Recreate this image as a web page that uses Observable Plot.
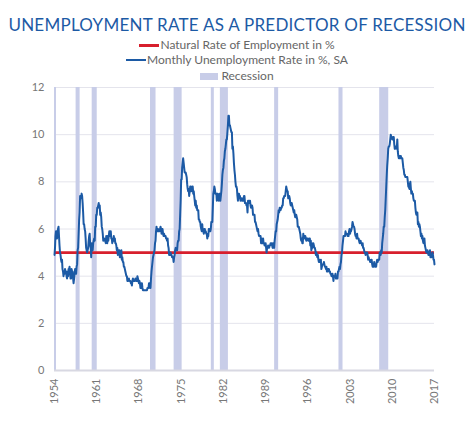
<!DOCTYPE html>
<html><head><meta charset="utf-8">
<script src="https://cdn.jsdelivr.net/npm/d3@7"></script>
<script src="https://cdn.jsdelivr.net/npm/@observablehq/plot@0.6"></script>
<style>
body{margin:0;background:#fff;font-family:Lato,"Open Sans",sans-serif;}
#wrap{width:474px;height:426px;position:relative;overflow:hidden}
#header{position:absolute;left:0;top:0;width:474px;height:84px;z-index:1}
#chart{position:absolute;left:0;top:0}
#title{position:absolute;left:0;width:474px;top:14px;text-align:center;color:#1c5aa5;font-size:17px;white-space:nowrap;line-height:22px}
.leg{position:absolute;left:0;width:474px;display:flex;justify-content:center;align-items:center;color:#666;font-size:12px;line-height:14px;white-space:nowrap}
.sw{display:inline-block;margin-right:1px}
</style></head>
<body><div id="wrap"><div id="chart"></div><div id="header">
<div id="title"><span id="tt">UNEMPLOYMENT RATE AS A PREDICTOR OF RECESSION</span></div>
<div class="leg" style="top:38px"><span class="sw" style="width:20px;height:3px;background:#d71f2d"></span><span>Natural Rate of Employment in %</span></div>
<div class="leg" style="top:53px"><span class="sw" style="width:20px;height:2px;background:#1c5aa5"></span><span>Monthly Unemployment Rate in %, SA</span></div>
<div class="leg" style="top:69px"><span class="sw" style="width:18px;height:7px;background:#c8cde8;margin-right:3px"></span><span>Recession</span></div>
</div></div>
<script>
const startMonth = "1954-01";
const unemploymentRate = [
4.9,5.2,5.7,5.9,5.9,5.6,5.8,6.0,6.1,5.7,5.3,5.0,
4.9,4.7,4.6,4.7,4.3,4.2,4.0,4.2,4.1,4.3,4.2,4.2,
4.0,3.9,4.2,4.0,4.3,4.3,4.4,4.1,3.9,3.9,4.3,4.2,
4.2,3.9,3.7,3.9,4.1,4.3,4.2,4.1,4.4,4.5,5.1,5.2,
5.8,6.4,6.7,7.4,7.4,7.3,7.5,7.4,7.1,6.7,6.2,6.2,
6.0,5.9,5.6,5.2,5.1,5.0,5.1,5.2,5.5,5.7,5.8,5.3,
5.2,4.8,5.4,5.2,5.1,5.4,5.5,5.6,5.5,6.1,6.1,6.6,
6.6,6.9,6.9,7.0,7.1,6.9,7.0,6.6,6.7,6.5,6.1,6.0,
5.8,5.5,5.6,5.6,5.5,5.5,5.4,5.7,5.6,5.4,5.7,5.5,
5.7,5.9,5.7,5.7,5.9,5.6,5.6,5.4,5.5,5.5,5.7,5.5,
5.6,5.4,5.4,5.3,5.1,5.2,4.9,5.0,5.1,5.1,4.8,5.0,
4.9,5.1,4.7,4.8,4.6,4.6,4.4,4.4,4.3,4.2,4.1,4.0,
4.0,3.8,3.8,3.8,3.9,3.8,3.8,3.8,3.7,3.7,3.6,3.8,
3.9,3.8,3.8,3.8,3.8,3.9,3.8,3.8,3.8,4.0,3.9,3.8,
3.7,3.8,3.7,3.5,3.5,3.7,3.7,3.5,3.4,3.4,3.4,3.4,
3.4,3.4,3.4,3.4,3.4,3.5,3.5,3.5,3.7,3.7,3.5,3.5,
3.9,4.2,4.4,4.6,4.8,4.9,5.0,5.1,5.4,5.5,5.9,6.1,
5.9,5.9,6.0,5.9,5.9,5.9,6.0,6.1,6.0,5.8,6.0,6.0,
5.8,5.7,5.8,5.7,5.7,5.7,5.6,5.6,5.5,5.6,5.3,5.2,
4.9,5.0,4.9,5.0,4.9,4.9,4.8,4.8,4.8,4.6,4.8,4.9,
5.1,5.2,5.1,5.1,5.1,5.4,5.5,5.5,5.9,6.0,6.6,7.2,
8.1,8.1,8.6,8.8,9.0,8.8,8.6,8.4,8.4,8.4,8.3,8.2,
7.9,7.7,7.6,7.7,7.4,7.6,7.8,7.8,7.6,7.7,7.8,7.8,
7.5,7.6,7.4,7.2,7.0,7.2,6.9,7.0,6.8,6.8,6.8,6.4,
6.4,6.3,6.3,6.1,6.0,5.9,6.2,5.9,6.0,5.8,5.9,6.0,
5.9,5.9,5.8,5.8,5.6,5.7,5.7,6.0,5.9,6.0,5.9,6.0,
6.3,6.3,6.3,6.9,7.5,7.6,7.8,7.7,7.5,7.5,7.5,7.2,
7.5,7.4,7.4,7.2,7.5,7.5,7.2,7.4,7.6,7.9,8.3,8.5,
8.6,8.9,9.0,9.3,9.4,9.6,9.8,9.8,10.1,10.4,10.8,10.8,
10.4,10.4,10.3,10.2,10.1,10.1,9.4,9.5,9.2,8.8,8.5,8.3,
8.0,7.8,7.8,7.7,7.4,7.2,7.5,7.5,7.3,7.4,7.2,7.3,
7.3,7.2,7.2,7.3,7.2,7.4,7.4,7.1,7.1,7.1,7.0,7.0,
6.7,7.2,7.2,7.1,7.2,7.2,7.0,6.9,7.0,7.0,6.9,6.6,
6.6,6.6,6.6,6.3,6.3,6.2,6.1,6.0,5.9,6.0,5.8,5.7,
5.7,5.7,5.7,5.4,5.6,5.4,5.4,5.6,5.4,5.4,5.3,5.3,
5.4,5.2,5.0,5.2,5.2,5.3,5.2,5.2,5.3,5.3,5.4,5.4,
5.4,5.3,5.2,5.4,5.4,5.2,5.5,5.7,5.9,5.9,6.2,6.3,
6.4,6.6,6.8,6.7,6.9,6.9,6.8,6.9,6.9,7.0,7.0,7.3,
7.3,7.4,7.4,7.4,7.6,7.8,7.7,7.6,7.6,7.3,7.4,7.4,
7.3,7.1,7.0,7.1,7.1,7.0,6.9,6.8,6.7,6.8,6.6,6.5,
6.6,6.6,6.5,6.4,6.1,6.1,6.1,6.0,5.9,5.8,5.6,5.5,
5.6,5.4,5.4,5.8,5.6,5.6,5.7,5.7,5.6,5.5,5.6,5.6,
5.6,5.5,5.5,5.6,5.6,5.3,5.5,5.1,5.2,5.2,5.4,5.4,
5.3,5.2,5.2,5.1,4.9,5.0,4.9,4.8,4.9,4.7,4.6,4.7,
4.6,4.6,4.7,4.3,4.4,4.5,4.5,4.5,4.6,4.5,4.4,4.4,
4.3,4.4,4.2,4.3,4.2,4.3,4.3,4.2,4.2,4.1,4.1,4.0,
4.0,4.1,4.0,3.8,4.0,4.0,4.0,4.1,3.9,3.9,3.9,3.9,
4.2,4.2,4.3,4.4,4.3,4.5,4.6,4.9,5.0,5.3,5.5,5.7,
5.7,5.7,5.7,5.9,5.8,5.8,5.8,5.7,5.7,5.7,5.9,6.0,
5.8,5.9,5.9,6.0,6.1,6.3,6.2,6.1,6.1,6.0,5.8,5.7,
5.7,5.6,5.8,5.6,5.6,5.6,5.5,5.4,5.4,5.5,5.4,5.4,
5.3,5.4,5.2,5.2,5.1,5.0,5.0,4.9,5.0,5.0,5.0,4.9,
4.7,4.8,4.7,4.7,4.6,4.6,4.7,4.7,4.5,4.4,4.5,4.4,
4.6,4.5,4.4,4.5,4.4,4.6,4.7,4.6,4.7,4.7,4.7,5.0,
5.0,4.9,5.1,5.0,5.4,5.6,5.8,6.1,6.1,6.5,6.8,7.3,
7.8,8.3,8.7,9.0,9.4,9.5,9.5,9.6,9.8,10.0,9.9,9.9,
9.8,9.8,9.9,9.9,9.6,9.4,9.4,9.5,9.5,9.4,9.8,9.3,
9.1,9.0,9.0,9.1,9.0,9.1,9.0,9.0,9.0,8.8,8.6,8.5,
8.3,8.3,8.2,8.2,8.2,8.2,8.2,8.0,7.8,7.8,7.7,7.9,
8.0,7.7,7.5,7.6,7.5,7.5,7.3,7.2,7.2,7.2,6.9,6.7,
6.6,6.7,6.7,6.2,6.3,6.1,6.2,6.1,5.9,5.7,5.8,5.6,
5.7,5.5,5.4,5.4,5.6,5.3,5.2,5.1,5.0,5.0,5.1,5.0,
4.9,4.9,5.0,5.1,4.8,4.9,4.8,4.9,5.0,4.9,4.7,4.7,
4.5
];
const naturalRate = 5.0;
const recessionStart = ["1954-01","1957-08","1960-04","1969-12","1973-11","1980-01","1981-07","1990-07","2001-03","2007-12"];
const recessionEnd   = ["1954-05","1958-04","1961-02","1970-11","1975-03","1980-07","1982-11","1991-03","2001-11","2009-06"];
const tickYears = [1954,1961,1968,1975,1982,1989,1996,2003,2010,2017];
const yTicks = [0,2,4,6,8,10,12];

const parse = d3.utcParse("%Y-%m");
const t0 = parse(startMonth);
const series = unemploymentRate.map((v,i)=>({date: d3.utcMonth.offset(t0,i), value: v}));
const recessions = recessionStart.map((s,i)=>({x1: parse(s), x2: parse(recessionEnd[i])}));
const lastDate = series[series.length-1].date;
const xTicks = tickYears.map(y=>new Date(Date.UTC(y,0,1)));

const chart = Plot.plot({
  width: 474,
  height: 426,
  marginTop: 87,
  marginBottom: 56,
  marginLeft: 54,
  marginRight: 40,
  style: {fontFamily: "Lato, 'Open Sans', sans-serif", fontSize: "11px", color: "#777", background: "transparent"},
  x: {type: "utc", domain: [t0, lastDate], label: null},
  y: {domain: [0,12], label: null},
  marks: [
    Plot.gridY(yTicks, {stroke: "#e4e4ec", strokeOpacity: 1, strokeWidth: 1}),
    Plot.rect(recessions, {x1: "x1", x2: "x2", y1: 0, y2: 12, fill: "#c8cde8"}),
    Plot.ruleY([0], {stroke: "#d8d8e2", strokeWidth: 2}),
    Plot.ruleY([naturalRate], {stroke: "#d71f2d", strokeWidth: 2.7}),
    Plot.lineY(series, {x: "date", y: "value", stroke: "#1c5aa5", strokeWidth: 2}),
    Plot.axisX({ticks: xTicks, tickFormat: d3.utcFormat("%Y"), tickRotate: -90, tickSize: 0, tickPadding: 8, fill: "#777"}),
    Plot.axisY({ticks: yTicks, tickSize: 0, tickPadding: 10, fill: "#777"})
  ]
});
document.getElementById("chart").appendChild(chart);

// fit title to reference width
const tt = document.getElementById("tt");
const w = tt.getBoundingClientRect().width;
const n = tt.textContent.length;
tt.style.letterSpacing = ((457 - w) / (n - 1)) + "px";
</script>
</body></html>
